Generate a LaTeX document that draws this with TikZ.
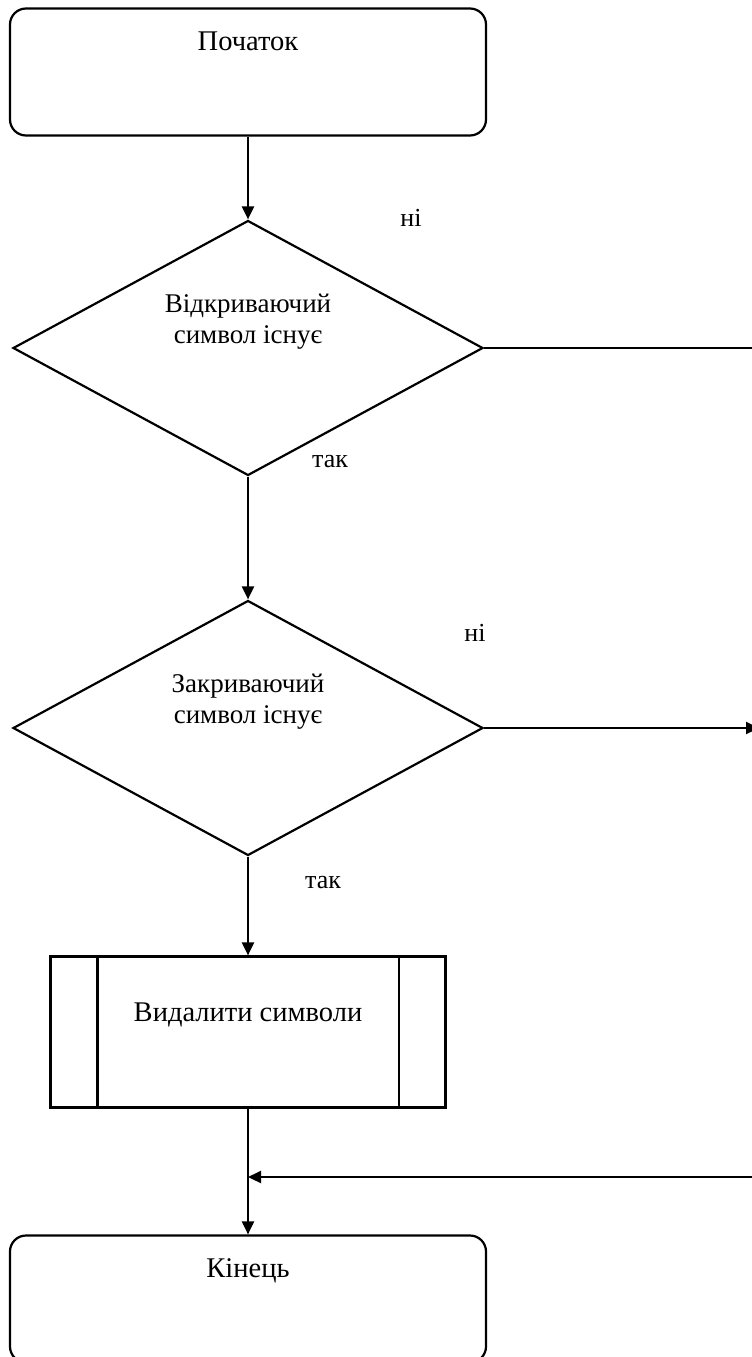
\documentclass[tikz,border=0pt]{standalone}
\usepackage{fontspec}
\setmainfont{Liberation Serif}
\usepackage{tikz}
\usetikzlibrary{shapes.geometric, arrows.meta, positioning, calc}
\tikzstyle{terminal} = [rectangle, rounded corners=16pt, minimum width=476pt, minimum height=127pt, draw=black, line width=2.2pt]
\tikzstyle{decision} = [diamond, minimum width=470pt, minimum height=255pt, inner sep=0pt, draw=black, line width=2.2pt]
\tikzstyle{subroutine} = [rectangle, minimum width=395pt, minimum height=151pt, draw=black, line width=2.2pt]
\tikzstyle{caption} = [font=\fontsize{26}{30}\selectfont, align=center]
\tikzstyle{question} = [font=\fontsize{27}{31}\selectfont, align=center]
\tikzstyle{boxtext} = [font=\fontsize{28.5}{32}\selectfont, align=center]
\tikzstyle{arrow} = [line width=2.2pt, -{Triangle[length=13pt,width=12pt]}]
\tikzstyle{link} = [line width=2.2pt]

\begin{document}
\begin{tikzpicture}[x=1pt, y=-1pt]
\clip (0,0) rectangle (752,1357);
% Blocks
\node (start) [terminal, label={[boxtext, below=21pt]north:Початок}] at (248,72) {};
\node (open) [decision, label={[question, yshift=26pt]center:Відкриваючий\\символ існує}] at (248,348) {};
\node (close) [decision, label={[question, yshift=26pt]center:Закриваючий\\символ існує}] at (248,728) {};
\node (remove) [subroutine, label={[boxtext, yshift=17pt]center:Видалити символи}] at (248,1032) {};
\node (stop) [terminal, label={[boxtext, below=21pt]north:Кінець}] at (248,1299) {};
\draw [link] ([xshift=48pt]remove.north west) -- ([xshift=48pt]remove.south west);
\draw [link] ([xshift=-48pt]remove.north east) -- ([xshift=-48pt]remove.south east);

% Branch labels
\node (no1) [caption] at (411,218) {ні};
\node (yes1) [caption] at (330,462) {так};
\node (no2) [caption] at (475,633) {ні};
\node (yes2) [caption] at (323,883) {так};

% Free ends at the right edge
\coordinate (out1) at (752,348);
\coordinate (out2) at (759,728);
\coordinate (back) at (752,1177);
\coordinate (merge) at (remove.south |- back);

% Connectors
\draw [arrow] (start) -- (open);
\draw [link] (open.east) -- (out1);
\draw [arrow] (open) -- (close);
\draw [arrow] (close.east) -- (out2);
\draw [arrow] (close) -- (remove);
\draw [arrow] (remove) -- (stop);
\draw [arrow] (back) -- (merge);
\end{tikzpicture}
\end{document}
